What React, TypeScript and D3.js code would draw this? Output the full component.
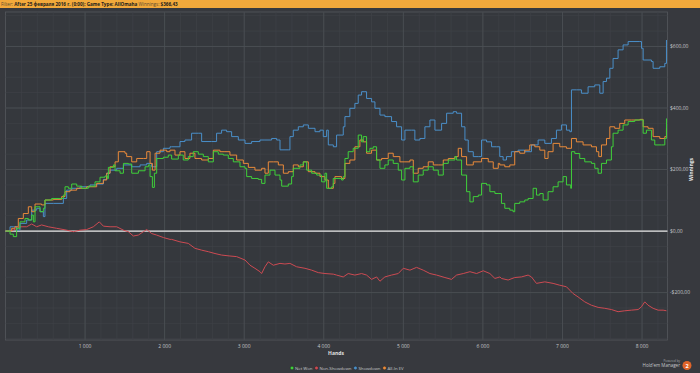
import React, { useEffect, useRef } from 'react';
import * as d3 from 'd3';

// [hands, winnings $]
const netWon: [number, number][] = [
  [0, 0], [57, -10], [98, -18], [140, 9], [182, 30], [245, 41], [287, 36], [329, 52], [350, 30], [371, 79],
  [434, 63], [476, 74], [496, 101], [580, 106], [685, 106], [727, 117], [748, 144], [790, 139], [832, 153],
  [895, 146], [957, 139], [1041, 146], [1125, 160], [1188, 175], [1251, 179], [1280, 171], [1293, 207],
  [1356, 215], [1377, 196], [1440, 188], [1482, 220], [1544, 218], [1586, 188], [1670, 196], [1754, 209],
  [1796, 215], [1817, 177], [1846, 142], [1871, 188], [1900, 236], [1984, 240], [2046, 247], [2088, 234],
  [2172, 247], [2234, 231], [2297, 242], [2360, 258], [2423, 250], [2486, 242], [2549, 225], [2612, 258],
  [2674, 250], [2737, 247], [2800, 236], [2863, 225], [2947, 209], [3010, 204], [3031, 177], [3093, 171],
  [3177, 168], [3219, 155], [3261, 182], [3324, 198], [3387, 182], [3450, 166], [3471, 146], [3554, 153],
  [3596, 177], [3617, 204], [3701, 215], [3743, 225], [3785, 198], [3848, 188], [3911, 182], [3973, 160],
  [4015, 188], [4036, 139], [4099, 144], [4119, 171], [4224, 166], [4245, 177], [4266, 236], [4307, 258],
  [4370, 269], [4433, 312], [4475, 290], [4496, 307], [4538, 258], [4580, 269], [4622, 274], [4664, 231],
  [4706, 204], [4768, 215], [4810, 231], [4873, 220], [4936, 198], [4978, 166], [5020, 204], [5083, 209],
  [5125, 160], [5187, 182], [5250, 198], [5313, 209], [5376, 198], [5439, 182], [5502, 220], [5565, 231],
  [5648, 242], [5669, 231], [5732, 182], [5795, 128], [5837, 95], [5879, 112], [5942, 117], [5983, 155],
  [6046, 150], [6088, 128], [6151, 122], [6191, 122], [6233, 90], [6275, 74], [6338, 68], [6379, 63],
  [6400, 90], [6463, 95], [6526, 101], [6568, 106], [6631, 139], [6673, 117], [6715, 122], [6757, 101],
  [6819, 128], [6882, 144], [6945, 160], [7008, 177], [7050, 150], [7104, 139], [7113, 258], [7155, 252],
  [7217, 236], [7280, 225], [7364, 220], [7406, 204], [7448, 188], [7490, 220], [7553, 231], [7615, 274],
  [7636, 318], [7699, 328], [7762, 345], [7825, 356], [7909, 361], [7972, 361], [8014, 318], [8055, 328],
  [8118, 296], [8160, 280], [8244, 280], [8286, 301], [8307, 366],
];

const allInEv: [number, number][] = [
  [0, 0], [78, 9], [119, 14], [161, 41], [224, 57], [287, 79], [329, 63], [371, 88], [454, 85], [496, 101],
  [601, 103], [706, 112], [748, 128], [811, 133], [895, 139], [1020, 144], [1146, 155], [1230, 166],
  [1272, 188], [1314, 209], [1377, 225], [1418, 258], [1502, 253], [1523, 242], [1586, 225], [1649, 236],
  [1733, 236], [1775, 258], [1817, 220], [1846, 198], [1880, 253], [1942, 263], [2026, 258], [2067, 263],
  [2130, 247], [2193, 258], [2255, 236], [2318, 253], [2381, 236], [2465, 231], [2549, 236], [2612, 263],
  [2695, 258], [2758, 258], [2821, 247], [2905, 231], [2989, 220], [3052, 207], [3135, 198], [3219, 204],
  [3261, 188], [3303, 225], [3366, 225], [3429, 215], [3492, 188], [3554, 193], [3617, 215], [3680, 209],
  [3743, 225], [3806, 193], [3890, 188], [3952, 177], [4015, 166], [4057, 139], [4120, 155], [4140, 177],
  [4224, 171], [4266, 220], [4328, 231], [4391, 274], [4454, 296], [4496, 290], [4538, 253], [4601, 263],
  [4664, 231], [4727, 236], [4810, 253], [4873, 242], [4957, 225], [5020, 225], [5083, 231], [5125, 188],
  [5187, 204], [5250, 209], [5313, 225], [5376, 215], [5439, 215], [5502, 231], [5565, 236], [5648, 242],
  [5690, 269], [5732, 242], [5795, 215], [5879, 225], [5983, 236], [6067, 225], [6130, 204], [6193, 220],
  [6212, 215], [6275, 209], [6338, 215], [6400, 258], [6463, 253], [6526, 263], [6589, 280], [6652, 274],
  [6715, 263], [6778, 236], [6819, 258], [6882, 285], [6966, 274], [7050, 269], [7113, 301], [7175, 290],
  [7259, 280], [7364, 274], [7427, 258], [7456, 242], [7490, 280], [7553, 301], [7595, 339], [7657, 334],
  [7720, 350], [7783, 361], [7867, 361], [7972, 363], [8014, 339], [8076, 334], [8139, 307], [8223, 301],
  [8286, 307], [8307, 334],
];

const showdown: [number, number][] = [
  [0, 0], [57, 14], [98, 14], [140, 3], [182, 25], [266, 36], [329, 68], [392, 74], [434, 63], [476, 47],
  [496, 90], [601, 90], [727, 106], [769, 133], [832, 139], [937, 144], [1062, 150], [1146, 153],
  [1230, 168], [1272, 188], [1314, 198], [1398, 204], [1482, 215], [1586, 209], [1691, 215], [1775, 220],
  [1837, 209], [1900, 258], [1984, 269], [2068, 274], [2088, 274], [2193, 291], [2255, 296], [2339, 318],
  [2423, 318], [2465, 291], [2591, 291], [2653, 318], [2716, 328], [2779, 323], [2842, 307], [2926, 296],
  [3010, 285], [3093, 291], [3198, 296], [3261, 296], [3345, 301], [3408, 296], [3450, 264], [3554, 264],
  [3575, 307], [3617, 328], [3680, 339], [3743, 345], [3806, 334], [3890, 323], [3952, 328], [3994, 307],
  [4036, 328], [4057, 280], [4120, 274], [4161, 312], [4245, 339], [4266, 372], [4328, 399], [4391, 415],
  [4433, 442], [4475, 453], [4517, 453], [4538, 431], [4601, 420], [4643, 399], [4706, 377], [4768, 372],
  [4852, 356], [4915, 339], [4978, 296], [5020, 328], [5103, 328], [5145, 296], [5208, 301], [5271, 339],
  [5334, 361], [5397, 328], [5481, 350], [5544, 383], [5627, 388], [5669, 383], [5732, 339], [5774, 296],
  [5816, 258], [5879, 242], [5942, 242], [5983, 296], [6046, 290], [6109, 274], [6172, 274], [6212, 242],
  [6254, 231], [6296, 242], [6358, 258], [6442, 263], [6526, 258], [6610, 280], [6694, 296], [6778, 285],
  [6861, 301], [6924, 328], [6987, 345], [7050, 328], [7092, 323], [7113, 459], [7175, 459], [7238, 448],
  [7322, 469], [7406, 475], [7469, 448], [7511, 486], [7553, 497], [7595, 529], [7636, 561], [7699, 589],
  [7762, 605], [7825, 616], [7972, 616], [7993, 594], [8014, 556], [8118, 551], [8139, 529], [8223, 534],
  [8286, 545], [8307, 621],
];

const nonShowdown: [number, number][] = [
  [0, 0], [98, 3], [182, 14], [266, 14], [329, 23], [392, 14], [454, 20], [538, 14], [643, 9], [769, 3],
  [853, -2], [937, 3], [1020, 5], [1104, 14], [1179, 30], [1230, 16], [1314, 14], [1398, 14], [1482, 3],
  [1544, -2], [1607, -16], [1670, -13], [1733, -2], [1775, 5], [1837, -8], [1900, -13], [1984, -21],
  [2068, -27], [2088, -27], [2193, -35], [2297, -40], [2381, -56], [2465, -62], [2549, -67], [2633, -73],
  [2716, -78], [2821, -81], [2905, -83], [3010, -94], [3073, -111], [3135, -121], [3198, -132], [3219, -138],
  [3261, -116], [3303, -100], [3366, -111], [3450, -105], [3512, -107], [3575, -105], [3659, -116],
  [3764, -121], [3848, -127], [3931, -135], [4015, -138], [4120, -140], [4161, -143], [4245, -149],
  [4307, -138], [4391, -143], [4475, -138], [4538, -143], [4601, -157], [4664, -149], [4706, -163],
  [4768, -149], [4852, -143], [4936, -138], [4999, -121], [5083, -127], [5166, -118], [5250, -127],
  [5334, -138], [5418, -143], [5523, -151], [5606, -157], [5669, -143], [5753, -138], [5837, -132],
  [5921, -138], [6004, -129], [6088, -138], [6151, -154], [6214, -149], [6233, -154], [6317, -159],
  [6400, -151], [6484, -149], [6568, -143], [6610, -149], [6673, -170], [6778, -165], [6882, -170],
  [6966, -176], [7050, -181], [7133, -203], [7196, -214], [7280, -230], [7364, -241], [7448, -248],
  [7532, -251], [7615, -255], [7699, -262], [7783, -259], [7867, -257], [7951, -255], [7993, -246],
  [8034, -230], [8076, -241], [8139, -251], [8202, -257], [8265, -257], [8307, -259],
];

const xTicks = [1000, 2000, 3000, 4000, 5000, 6000, 7000, 8000];
const yTicks = [-200, 0, 200, 400, 600];

const seriesNames = ['Net Won', 'Non-Showdown', 'Showdown', 'All-In EV'];
const seriesColors = ['#3fcf3a', '#cc4a52', '#4a8fc9', '#e98a3a'];

const fmtHands = (d: number) => d3.format(',')(d).replace(',', ' ');
const fmtMoney = (d: number) => (d < 0 ? '-$' : '$') + Math.abs(d).toFixed(2).replace('.', ',');

export default function App() {
  const svgRef = useRef<SVGSVGElement>(null);

  useEffect(() => {
    const svg = d3.select(svgRef.current);
    svg.selectAll('*').remove();

    const W = 700, H = 373;
    const plot = { left: 5.5, right: 667.5, top: 12, bottom: 340 };
    const font = '"Open Sans", "DejaVu Sans", sans-serif';

    const x = d3.scaleLinear().domain([0, 8320]).range([plot.left, plot.right]);
    const y = d3.scaleLinear().domain([-354, 712]).range([plot.bottom, plot.top]);

    svg.append('rect').attr('width', W).attr('height', H).attr('fill', '#37393e');

    // header bar
    svg.append('rect').attr('width', W).attr('height', 8).attr('fill', '#f2a93b');
    const hdr = svg.append('text').attr('x', 1).attr('y', 6).attr('font-family', font)
      .attr('font-size', 4.6).attr('fill', '#1c1c1c');
    hdr.append('tspan').attr('fill', '#5a4a30').text('Filter: ');
    hdr.append('tspan').attr('font-weight', 'bold').text('After 25 февраля 2016 г. (0:00); Game Type: AllOmaha ');
    hdr.append('tspan').attr('fill', '#5a4a30').text('Winnings: ');
    hdr.append('tspan').attr('font-weight', 'bold').text('$366,43');

    // plot area
    svg.append('rect')
      .attr('x', plot.left).attr('y', plot.top)
      .attr('width', plot.right - plot.left).attr('height', plot.bottom - plot.top)
      .attr('fill', '#35383d').attr('stroke', '#55585d').attr('stroke-width', 0.8);

    const grid = svg.append('g');
    // minor grid
    grid.selectAll('.vminor').data(d3.range(200, 8320, 200))
      .enter().append('line')
      .attr('x1', (d) => x(d)).attr('x2', (d) => x(d))
      .attr('y1', plot.top).attr('y2', plot.bottom)
      .attr('stroke', '#3f4247').attr('stroke-width', 0.7);
    grid.selectAll('.hminor').data(d3.range(-350, 712, 50))
      .enter().append('line')
      .attr('x1', plot.left).attr('x2', plot.right)
      .attr('y1', (d) => y(d)).attr('y2', (d) => y(d))
      .attr('stroke', '#3f4247').attr('stroke-width', 0.7);
    // major grid
    grid.selectAll('.vmajor').data(xTicks)
      .enter().append('line')
      .attr('x1', (d) => x(d)).attr('x2', (d) => x(d))
      .attr('y1', plot.top).attr('y2', plot.bottom)
      .attr('stroke', '#4d5055').attr('stroke-width', 0.8);
    grid.selectAll('.hmajor').data(yTicks)
      .enter().append('line')
      .attr('x1', plot.left).attr('x2', plot.right)
      .attr('y1', (d) => y(d)).attr('y2', (d) => y(d))
      .attr('stroke', '#4d5055').attr('stroke-width', 0.8);

    // zero line
    svg.append('line')
      .attr('x1', plot.left).attr('x2', plot.right)
      .attr('y1', y(0)).attr('y2', y(0))
      .attr('stroke', '#e6e6e6').attr('stroke-width', 1.4);

    const stepLine = d3.line<[number, number]>()
      .x((d) => x(d[0])).y((d) => y(d[1])).curve(d3.curveStepAfter);
    const plainLine = d3.line<[number, number]>()
      .x((d) => x(d[0])).y((d) => y(d[1]));

    const lines: { data: [number, number][]; color: string; gen: any }[] = [
      { data: nonShowdown, color: seriesColors[1], gen: plainLine },
      { data: showdown, color: seriesColors[2], gen: stepLine },
      { data: allInEv, color: seriesColors[3], gen: stepLine },
      { data: netWon, color: seriesColors[0], gen: stepLine },
    ];
    lines.forEach((s) => {
      svg.append('path')
        .attr('d', s.gen(s.data))
        .attr('fill', 'none')
        .attr('stroke', s.color)
        .attr('stroke-width', 1)
        .attr('stroke-linejoin', 'round');
    });

    // x axis labels
    svg.append('g').selectAll('text').data(xTicks).enter().append('text')
      .attr('x', (d) => x(d)).attr('y', 348)
      .attr('text-anchor', 'middle').attr('font-family', font).attr('font-size', 5)
      .attr('fill', '#c4c6c9').text((d) => fmtHands(d));
    svg.append('text').attr('x', 336).attr('y', 355).attr('text-anchor', 'middle')
      .attr('font-family', font).attr('font-size', 5).attr('font-weight', 'bold')
      .attr('fill', '#e0e0e0').text('Hands');

    // y axis labels (right)
    svg.append('g').selectAll('text').data(yTicks).enter().append('text')
      .attr('x', 670).attr('y', (d) => y(d) + 1.8)
      .attr('font-family', font).attr('font-size', 5)
      .attr('fill', '#c4c6c9').text((d) => fmtMoney(d));
    svg.append('text')
      .attr('transform', `translate(693,${y(200)}) rotate(-90)`)
      .attr('text-anchor', 'middle').attr('font-family', font).attr('font-size', 5)
      .attr('font-weight', 'bold').attr('fill', '#e6e6e6').text('Winnings');

    // legend
    const legend = svg.append('g').attr('font-family', font).attr('font-size', 4.3);
    let lx = 292;
    seriesNames.forEach((name, i) => {
      legend.append('circle').attr('cx', lx).attr('cy', 368).attr('r', 1.8)
        .attr('fill', seriesColors[i]).attr('stroke', '#222').attr('stroke-width', 0.4);
      const t = legend.append('text').attr('x', lx + 3).attr('y', 369.6)
        .attr('fill', '#c4c6c9').text(name);
      const w = (t.node() as SVGTextElement).getComputedTextLength();
      lx += w + 7;
    });

    // logo
    svg.append('text').attr('x', 680).attr('y', 362).attr('text-anchor', 'end')
      .attr('font-family', font).attr('font-size', 3).attr('fill', '#a8aaad').text('Powered by');
    svg.append('text').attr('x', 680).attr('y', 367).attr('text-anchor', 'end')
      .attr('font-family', font).attr('font-size', 4.5).attr('fill', '#c4c6c9').text("Hold'em Manager");
    svg.append('circle').attr('cx', 687).attr('cy', 365.5).attr('r', 4.5).attr('fill', '#e0652a');
    svg.append('text').attr('x', 687).attr('y', 367.5).attr('text-anchor', 'middle')
      .attr('font-family', font).attr('font-size', 5.5).attr('font-weight', 'bold')
      .attr('fill', '#fff').text('2');
  }, []);

  return (
    <svg ref={svgRef} width={700} height={373}
      style={{ position: 'absolute', left: 0, top: 0, display: 'block' }} />
  );
}
